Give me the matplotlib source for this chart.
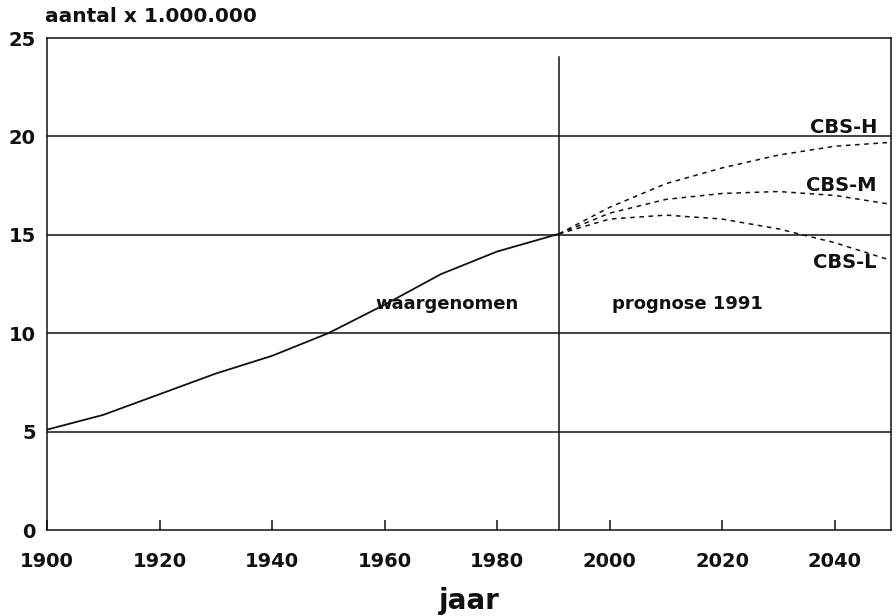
import matplotlib
matplotlib.use("Agg")
import matplotlib.pyplot as plt

plt.rcParams['font.family'] = ['DejaVu Sans']

# Observed population (millions)
obs_years = [1900, 1910, 1920, 1930, 1940, 1950, 1960, 1970, 1980, 1991]
obs_vals = [5.1, 5.85, 6.9, 7.95, 8.85, 10.0, 11.45, 13.0, 14.15, 15.05]

# CBS projections 1991
proj_years = [1991, 2000, 2010, 2020, 2030, 2040, 2050]
cbs_h = [15.05, 16.4, 17.6, 18.4, 19.05, 19.5, 19.7]
cbs_m = [15.05, 16.1, 16.8, 17.1, 17.2, 17.0, 16.55]
cbs_l = [15.05, 15.8, 16.0, 15.8, 15.3, 14.6, 13.7]

x_ticks = [1900, 1920, 1940, 1960, 1980, 2000, 2020, 2040]
y_ticks = [0, 5, 10, 15, 20, 25]
split_year = 1991

fig = plt.figure(figsize=(8.96, 6.16), dpi=100)
ax = fig.add_axes([47/896, 1-530/616, (891-47)/896, (530-38)/616])

ink = '#111111'
for y in y_ticks[1:-1]:
    ax.axhline(y, color=ink, lw=1.1, zorder=1)

ax.plot(obs_years, obs_vals, color=ink, lw=1.3, zorder=3)
for vals in (cbs_h, cbs_m, cbs_l):
    ax.plot(proj_years, vals, color=ink, lw=1.1, dashes=(3, 3), zorder=3)

ax.plot([split_year, split_year], [0, 24.05], color=ink, lw=1.1, zorder=2)

ax.set_xlim(1900, 2050)
ax.set_ylim(0, 25)
ax.set_xticks(x_ticks)
ax.set_yticks(y_ticks)
ax.tick_params(axis='x', direction='in', length=7, width=1.1, pad=16,
               labelsize=14, colors=ink)
ax.tick_params(axis='y', length=0, pad=8, labelsize=14, colors=ink)
for lab in ax.get_xticklabels() + ax.get_yticklabels():
    lab.set_fontweight('bold')
for sp in ax.spines.values():
    sp.set_color(ink)
    sp.set_linewidth(1.1)

tkw = dict(fontsize=13, fontweight='bold', color=ink, va='center')
ax.text(1971, 11.5, 'waargenomen', ha='center', **tkw)
ax.text(2013.8, 11.5, 'prognose 1991', ha='center', **tkw)
lkw = dict(fontsize=14, fontweight='bold', color=ink, va='center', ha='right')
ax.text(2047.5, 20.45, 'CBS-H', **lkw)
ax.text(2047.5, 17.5, 'CBS-M', **lkw)
ax.text(2047.5, 13.6, 'CBS-L', **lkw)

fig.text(45/896, 1-17/616, 'aantal x 1.000.000', fontsize=14.5,
         fontweight='bold', color=ink, ha='left', va='center')
fig.text(469/896, 1-601/616, 'jaar', fontsize=20, fontweight='bold',
         color=ink, ha='center', va='center')

fig.savefig('out.png', dpi=100)
